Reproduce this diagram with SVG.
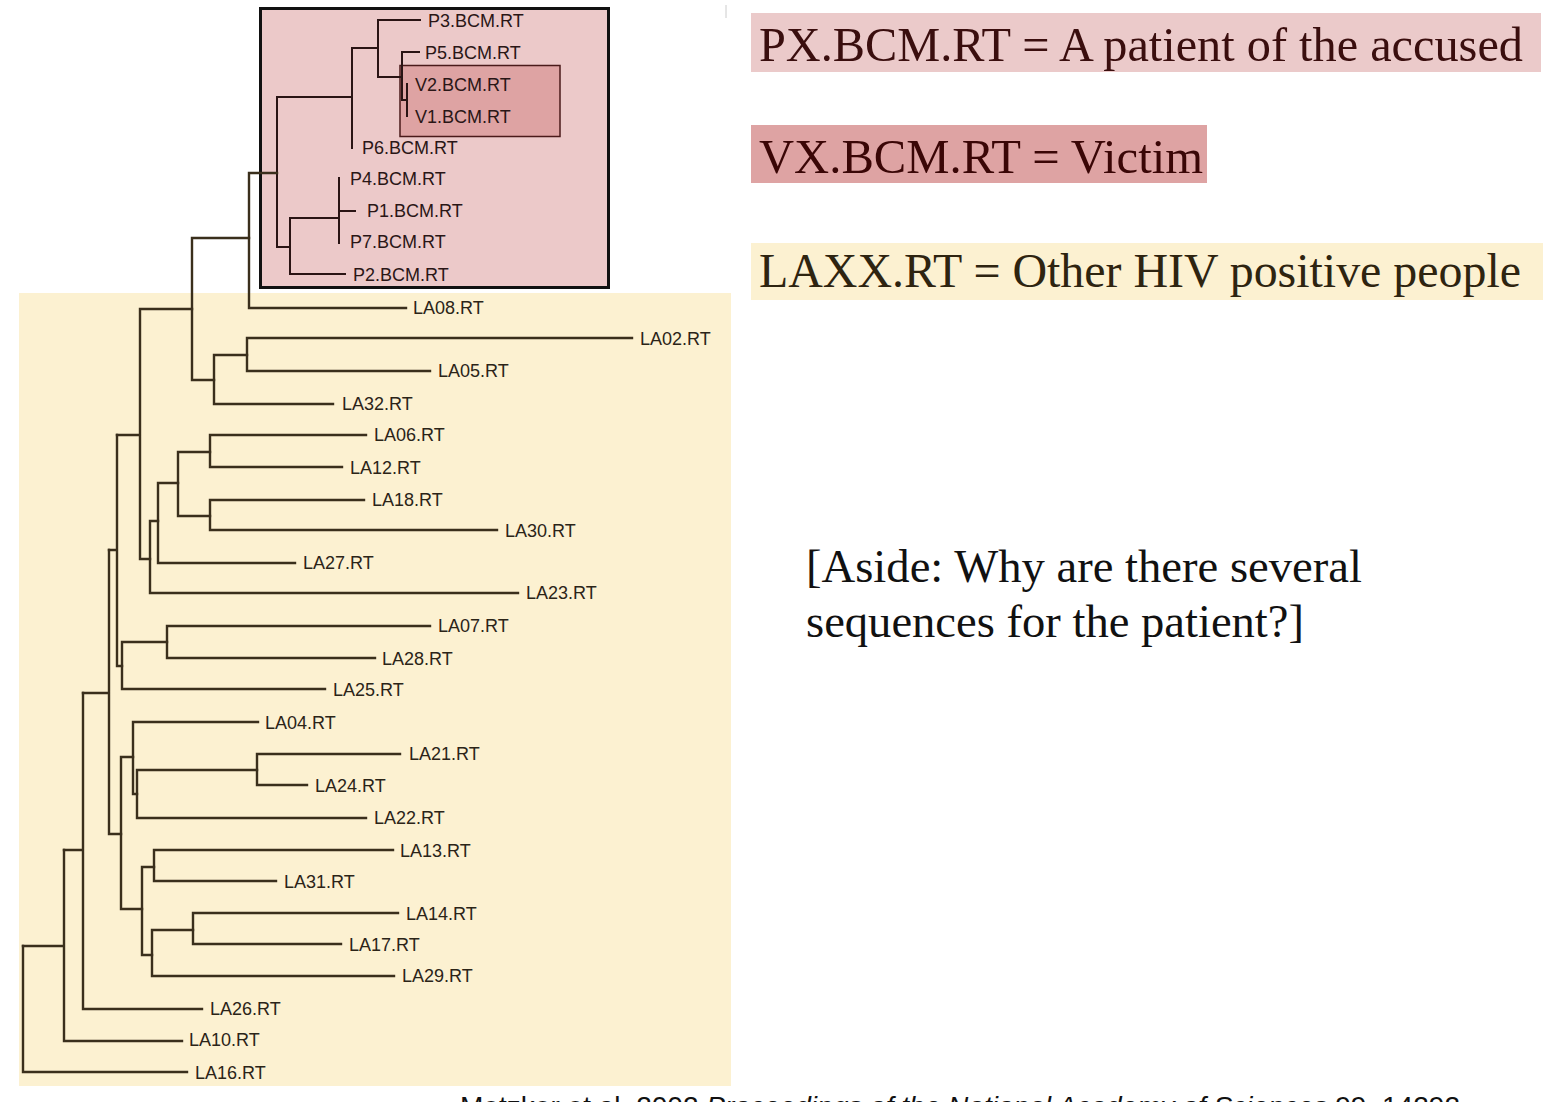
<svg xmlns="http://www.w3.org/2000/svg" width="1568" height="1102" viewBox="0 0 1568 1102">
<style>
.lbl{font-family:"Liberation Sans",Arial,sans-serif;font-size:18px;fill:#2b2418}
.plbl{font-family:"Liberation Sans",Arial,sans-serif;font-size:18px;fill:#2a1616}
.br{fill:none;stroke:#3a2f1c;stroke-width:2.4;stroke-linejoin:miter;stroke-linecap:square}
.pbr{fill:none;stroke:#2a1414;stroke-width:2;stroke-linecap:square}
.leg{font-family:"Liberation Serif","Times New Roman",serif;font-size:48px}
.aside{font-family:"Liberation Serif","Times New Roman",serif;font-size:47px;fill:#111}
</style>
<rect width="1568" height="1102" fill="#ffffff"/>
<!-- backgrounds -->
<rect id="others-bg" x="19" y="293" width="712" height="793" fill="#fcf1d1"/>
<rect id="patients-box" x="260.5" y="8.5" width="348" height="279" fill="#ecc9c9" stroke="#111" stroke-width="3"/>
<rect id="victim-box" x="400" y="65.5" width="160" height="71" fill="#dea3a3" stroke="#4a1a1a" stroke-width="1.5"/>
<line x1="726" y1="5" x2="726" y2="18" stroke="#ccc" stroke-width="1"/>

<g id="connectors">
<g class="pbr">
<path d="M420,20 H378 V77 H402"/>
<path d="M419,52 H402 V100 H407"/>
<path d="M407,84 V116"/>
<path d="M378,48 H352 V148"/>
<path d="M352,97 H277 V247 H290"/>
<path d="M339,218 H290 V274 H345"/>
<path d="M339,178 V243 M339,211 H355"/>
</g>
<g class="br">
<path d="M277,173 H249 V308 H406"/>
<path d="M249,238 H192 V380 H214"/>
<path d="M247,355 H214 V404 H333"/>
<path d="M632,338 H247 V371 H430"/>
<path d="M192,309 H140 V559 H150 M140,435 H117"/>
<path d="M158,521 H150 V593 H518"/>
<path d="M178,483 H158 V563 H295"/>
<path d="M210,452 H178 V516 H210"/>
<path d="M366,435 H210 V467 H342"/>
<path d="M364,500 H210 V530 H497"/>
<path d="M117,435 V666 H122 M117,550 H109"/>
<path d="M167,642 H122 V689 H325"/>
<path d="M430,626 H167 V658 H375"/>
<path d="M109,550 V834 H121 M109,693 H83"/>
<path d="M133,757 H121 V909 H142"/>
<path d="M258,722 H133 V794 H137"/>
<path d="M257,770 H137 V818 H366"/>
<path d="M400,754 H257 V785 H307"/>
<path d="M154,867 H142 V955 H152"/>
<path d="M393,850 H154 V881 H276"/>
<path d="M193,930 H152 V976 H394"/>
<path d="M398,913 H193 V944 H341"/>
<path d="M83,693 V1009 H202 M83,850 H64"/>
<path d="M64,850 V1041 H182 M64,946 H23"/>
<path d="M23,946 V1072 H187"/>
</g>
</g>

<g id="leaves-patients">
<g id="P3"><text class="plbl" x="428" y="27">P3.BCM.RT</text></g>
<g id="P5"><text class="plbl" x="425" y="59">P5.BCM.RT</text></g>
<g id="V2"><text class="plbl" x="415" y="91">V2.BCM.RT</text></g>
<g id="V1"><text class="plbl" x="415" y="123">V1.BCM.RT</text></g>
<g id="P6"><text class="plbl" x="362" y="154">P6.BCM.RT</text></g>
<g id="P4"><text class="plbl" x="350" y="185">P4.BCM.RT</text></g>
<g id="P1"><text class="plbl" x="367" y="217">P1.BCM.RT</text></g>
<g id="P7"><text class="plbl" x="350" y="248">P7.BCM.RT</text></g>
<g id="P2"><text class="plbl" x="353" y="281">P2.BCM.RT</text></g>
</g>

<g id="leaves-others">
<g id="LA08"><text class="lbl" x="413" y="314">LA08.RT</text></g>
<g id="LA02"><text class="lbl" x="640" y="345">LA02.RT</text></g>
<g id="LA05"><text class="lbl" x="438" y="377">LA05.RT</text></g>
<g id="LA32"><text class="lbl" x="342" y="410">LA32.RT</text></g>
<g id="LA06"><text class="lbl" x="374" y="441">LA06.RT</text></g>
<g id="LA12"><text class="lbl" x="350" y="474">LA12.RT</text></g>
<g id="LA18"><text class="lbl" x="372" y="506">LA18.RT</text></g>
<g id="LA30"><text class="lbl" x="505" y="537">LA30.RT</text></g>
<g id="LA27"><text class="lbl" x="303" y="569">LA27.RT</text></g>
<g id="LA23"><text class="lbl" x="526" y="599">LA23.RT</text></g>
<g id="LA07"><text class="lbl" x="438" y="632">LA07.RT</text></g>
<g id="LA28"><text class="lbl" x="382" y="665">LA28.RT</text></g>
<g id="LA25"><text class="lbl" x="333" y="696">LA25.RT</text></g>
<g id="LA04"><text class="lbl" x="265" y="729">LA04.RT</text></g>
<g id="LA21"><text class="lbl" x="409" y="760">LA21.RT</text></g>
<g id="LA24"><text class="lbl" x="315" y="792">LA24.RT</text></g>
<g id="LA22"><text class="lbl" x="374" y="824">LA22.RT</text></g>
<g id="LA13"><text class="lbl" x="400" y="857">LA13.RT</text></g>
<g id="LA31"><text class="lbl" x="284" y="888">LA31.RT</text></g>
<g id="LA14"><text class="lbl" x="406" y="920">LA14.RT</text></g>
<g id="LA17"><text class="lbl" x="349" y="951">LA17.RT</text></g>
<g id="LA29"><text class="lbl" x="402" y="982">LA29.RT</text></g>
<g id="LA26"><text class="lbl" x="210" y="1015">LA26.RT</text></g>
<g id="LA10"><text class="lbl" x="189" y="1046">LA10.RT</text></g>
<g id="LA16"><text class="lbl" x="195" y="1079">LA16.RT</text></g>
</g>

<g id="legend-patient">
<rect x="751" y="13" width="790" height="59" fill="#ebcaca"/>
<text class="leg" x="759" y="61" fill="#3a0e0e" textLength="764" lengthAdjust="spacingAndGlyphs">PX.BCM.RT = A patient of the accused</text>
</g>
<g id="legend-victim">
<rect x="751" y="125" width="456" height="58" fill="#dea3a3"/>
<text class="leg" x="759" y="173" fill="#3a0606" textLength="444" lengthAdjust="spacingAndGlyphs">VX.BCM.RT = Victim</text>
</g>
<g id="legend-others">
<rect x="751" y="243" width="792" height="57" fill="#fcf1d1"/>
<text class="leg" x="759" y="287" fill="#2e2410" textLength="762" lengthAdjust="spacingAndGlyphs">LAXX.RT = Other HIV positive people</text>
</g>

<g id="aside">
<text class="aside" x="806" y="582" textLength="556" lengthAdjust="spacingAndGlyphs">[Aside: Why are there several</text>
<text class="aside" x="806" y="637" textLength="498" lengthAdjust="spacingAndGlyphs">sequences for the patient?]</text>
</g>

<g id="citation">
<text x="460" y="1116" font-family="'Liberation Sans',Arial,sans-serif" font-size="28" fill="#111" textLength="1000" lengthAdjust="spacingAndGlyphs">Metzker et al. 2002 <tspan font-style="italic">Proceedings of the National Academy of Sciences</tspan> 99, 14292</text>
</g>
</svg>
